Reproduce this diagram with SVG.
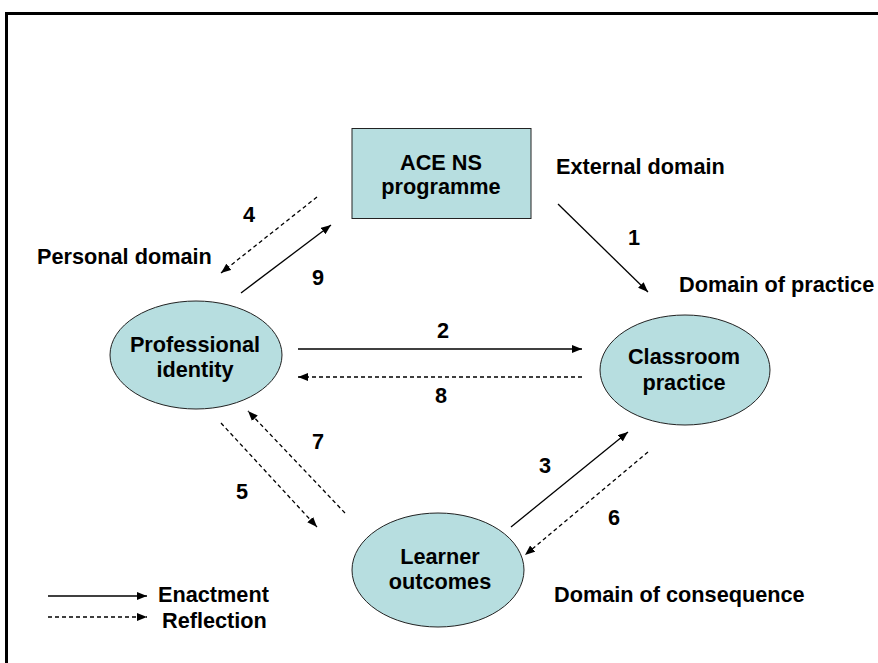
<svg xmlns="http://www.w3.org/2000/svg" width="878" height="663" viewBox="0 0 878 663">
<style>
text{font-family:"Liberation Sans",Arial,sans-serif;font-weight:bold;font-size:21.7px;fill:#000}
.c{text-anchor:middle}
.node{fill:#b7dee0;stroke:#222;stroke-width:1}
.s{stroke:#000;stroke-width:1.3;fill:none}
.d{stroke:#000;stroke-width:1.3;fill:none;stroke-dasharray:4 3}
</style>
<defs>
<marker id="ah" viewBox="0 0 10 8" refX="10" refY="4" markerWidth="10" markerHeight="8" markerUnits="userSpaceOnUse" orient="auto">
<path d="M0,0 L10,4 L0,8 Z" fill="#000"/>
</marker>
</defs>
<rect width="878" height="663" fill="#fff"/>
<path d="M6.5,663 V13.5 H878" fill="none" stroke="#000" stroke-width="3"/>
<g id="ace">
<rect class="node" x="352" y="128.5" width="179" height="90"/>
<text class="c" x="441" y="170">ACE NS</text>
<text class="c" x="441" y="194">programme</text>
</g>
<g id="professional">
<ellipse class="node" cx="196" cy="355" rx="86" ry="54"/>
<text class="c" x="195" y="352">Professional</text>
<text class="c" x="195" y="377">identity</text>
</g>
<g id="classroom">
<ellipse class="node" cx="685" cy="370" rx="85" ry="55"/>
<text class="c" x="684" y="364">Classroom</text>
<text class="c" x="684" y="390">practice</text>
</g>
<g id="learner">
<ellipse class="node" cx="438" cy="570" rx="86" ry="57"/>
<text class="c" x="440" y="564">Learner</text>
<text class="c" x="440" y="589">outcomes</text>
</g>
<g id="connectors">
<line class="s" x1="558" y1="204" x2="648" y2="292" marker-end="url(#ah)"/>
<line class="s" x1="298" y1="349" x2="582" y2="349" marker-end="url(#ah)"/>
<line class="s" x1="511" y1="527" x2="628" y2="432" marker-end="url(#ah)"/>
<line class="d" x1="317" y1="197" x2="221" y2="273" marker-end="url(#ah)"/>
<line class="s" x1="241" y1="293" x2="331" y2="225" marker-end="url(#ah)"/>
<line class="d" x1="221" y1="423" x2="317" y2="527" marker-end="url(#ah)"/>
<line class="d" x1="648" y1="452" x2="525" y2="555" marker-end="url(#ah)"/>
<line class="d" x1="345" y1="513" x2="248" y2="411" marker-end="url(#ah)"/>
<line class="d" x1="582" y1="377" x2="298" y2="377" marker-end="url(#ah)"/>
<line class="s" x1="48" y1="596" x2="147" y2="596" marker-end="url(#ah)"/>
<line class="d" x1="48" y1="617" x2="147" y2="617" marker-end="url(#ah)"/>
</g>
<g id="labels">
<text x="556" y="174">External domain</text>
<text x="37" y="264">Personal domain</text>
<text x="679" y="292">Domain of practice</text>
<text x="554" y="602">Domain of consequence</text>
<text x="158" y="602">Enactment</text>
<text x="162" y="628">Reflection</text>
<text class="c" x="249" y="222">4</text>
<text class="c" x="318" y="285">9</text>
<text class="c" x="634" y="245">1</text>
<text class="c" x="443" y="338">2</text>
<text class="c" x="441" y="403">8</text>
<text class="c" x="318" y="449">7</text>
<text class="c" x="242" y="499">5</text>
<text class="c" x="545" y="473">3</text>
<text class="c" x="614" y="525">6</text>
</g>
</svg>
